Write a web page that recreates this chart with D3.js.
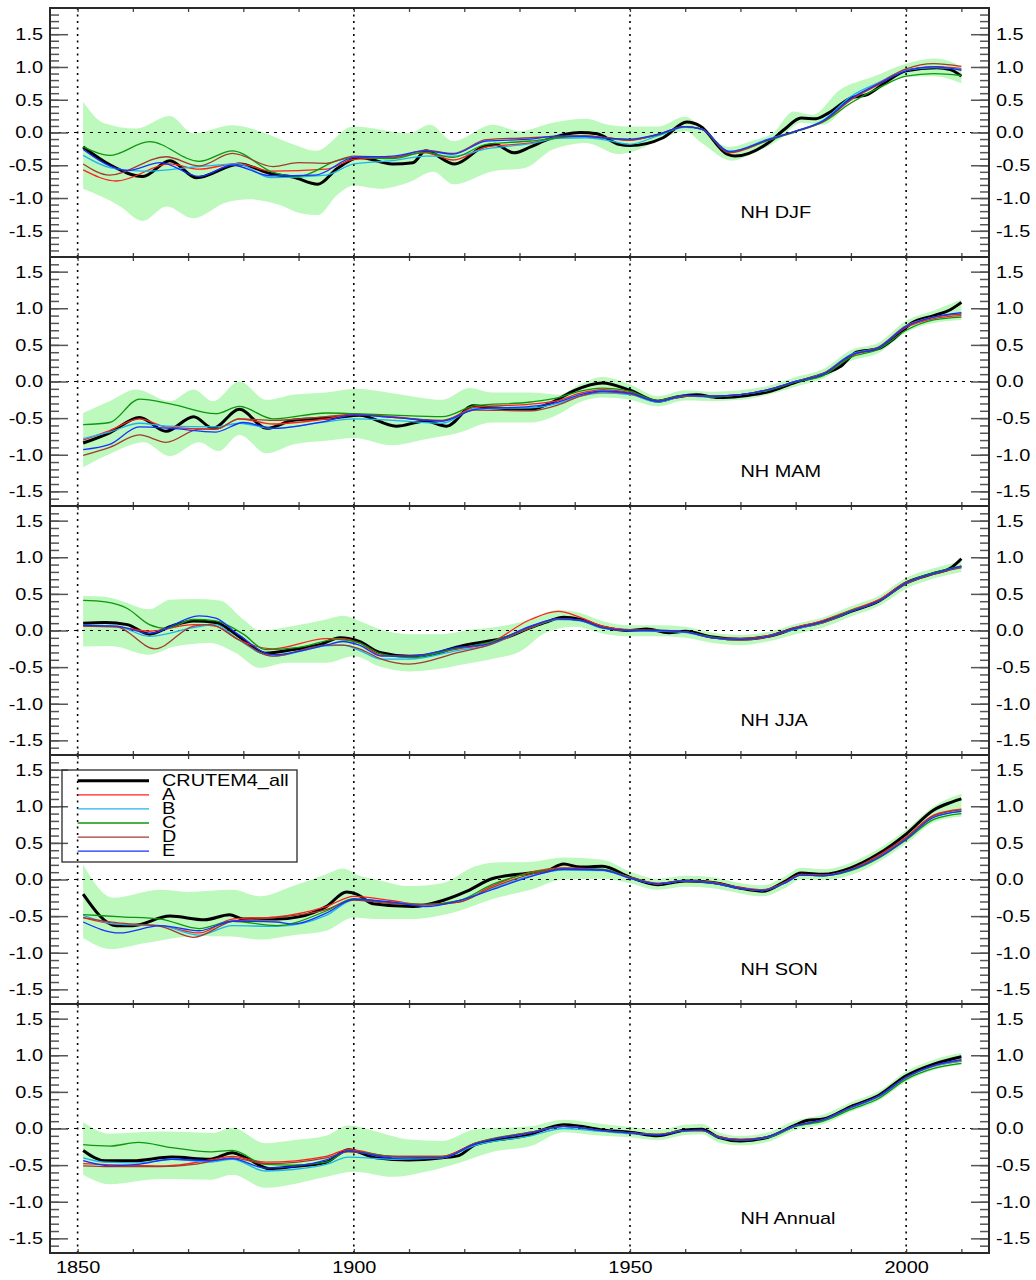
<!DOCTYPE html>
<html>
<head>
<meta charset="utf-8">
<script src="https://cdn.jsdelivr.net/npm/d3@7"></script>
<style>
  body { margin: 0; background: #fff; }
  svg { display: block; }
  text { font-family: "Liberation Sans", Arial, Helvetica, sans-serif; fill: #000; }
</style>
</head>
<body>
<svg id="chart" width="1036" height="1280"></svg>
<script>
// ---------------------------------------------------------------------------
// Smoothed NH land temperature anomalies (degC) by season, [year, value] knots.
// ---------------------------------------------------------------------------
const panelTitles = ["NH DJF", "NH MAM", "NH JJA", "NH SON", "NH Annual"];
const panelLimits = [1.9, 1.7, 1.7, 1.7, 1.7];
const seriesNames = ["CRUTEM4_all", "A", "B", "C", "D", "E"];
const seriesColors = ["#000000", "#ff2020", "#1cb4f0", "#0e960e", "#a33a30", "#1830ff"];
const xTickYears = [1850, 1860, 1870, 1880, 1890, 1900, 1910, 1920, 1930, 1940, 1950, 1960, 1970, 1980, 1990, 2000, 2010];
const xLabelYears = [1850, 1900, 1950, 2000];
const yLabelValues = [-1.5, -1.0, -0.5, 0.0, 0.5, 1.0, 1.5];

// --- NH DJF ---
const djfAll = [[1851,-0.22],[1856,-0.50],[1861.8,-0.67],[1866.7,-0.43],[1871.5,-0.69],[1879.3,-0.48],[1885,-0.63],[1889,-0.68],[1893.5,-0.79],[1897,-0.55],[1901,-0.38],[1907,-0.48],[1910.7,-0.46],[1913,-0.28],[1918.3,-0.48],[1923.4,-0.22],[1925.5,-0.18],[1929,-0.31],[1932,-0.22],[1935,-0.11],[1941,0.0],[1944,-0.02],[1948,-0.18],[1950,-0.20],[1956,-0.08],[1960.3,0.16],[1962.7,0.10],[1967.6,-0.33],[1969,-0.36],[1975,-0.16],[1978,0.05],[1981,0.22],[1983.7,0.21],[1986,0.30],[1990,0.53],[1993,0.58],[1996.5,0.78],[2000,0.94],[2005.5,0.99],[2008,0.96],[2010,0.86]];
const djfA = [[1851,-0.57],[1857,-0.74],[1866.7,-0.48],[1872,-0.56],[1879,-0.47],[1885,-0.59],[1895,-0.56],[1900,-0.41],[1907,-0.38],[1913,-0.31],[1918,-0.42],[1924,-0.22],[1932,-0.16],[1937,-0.07],[1942,-0.05],[1946,-0.09],[1950,-0.12],[1955,-0.03],[1960,0.09],[1963,0.05],[1968,-0.31],[1975,-0.12],[1980,0.02],[1985,0.18],[1990,0.50],[1995,0.73],[2000,0.95],[2005,1.00],[2010,0.98]];
const djfB = [[1851,-0.35],[1856,-0.54],[1862,-0.59],[1872,-0.52],[1879,-0.48],[1885,-0.69],[1895,-0.65],[1900,-0.48],[1907,-0.43],[1913,-0.36],[1918,-0.36],[1924,-0.25],[1932,-0.17],[1937,-0.09],[1942,-0.08],[1946,-0.12],[1950,-0.18],[1955,-0.05],[1960,0.08],[1963,0.05],[1968,-0.29],[1975,-0.10],[1980,0.02],[1985,0.19],[1990,0.55],[1995,0.76],[2000,0.95],[2005,0.99],[2010,0.96]];
const djfC = [[1851,-0.22],[1855.8,-0.35],[1863,-0.14],[1872,-0.44],[1878,-0.28],[1885.4,-0.61],[1890,-0.67],[1897,-0.43],[1900,-0.38],[1907,-0.40],[1913,-0.30],[1918,-0.38],[1924,-0.18],[1932,-0.13],[1937,-0.08],[1942,-0.06],[1946,-0.09],[1950,-0.11],[1955,-0.04],[1960,0.09],[1963,0.05],[1968,-0.30],[1975,-0.12],[1980,0.01],[1985,0.16],[1990,0.45],[1995,0.68],[2000,0.86],[2005,0.90],[2010,0.87]];
const djfD = [[1851,-0.48],[1855.8,-0.65],[1866,-0.37],[1872,-0.51],[1878,-0.32],[1885.4,-0.52],[1890,-0.46],[1895,-0.47],[1900,-0.36],[1907,-0.38],[1913,-0.27],[1918,-0.32],[1924,-0.11],[1932,-0.08],[1937,-0.06],[1942,-0.05],[1946,-0.08],[1950,-0.11],[1955,-0.03],[1960,0.09],[1963,0.05],[1968,-0.30],[1975,-0.11],[1980,0.02],[1985,0.17],[1990,0.50],[1995,0.75],[2000,0.97],[2005,1.05],[2010,1.01]];
const djfE = [[1851,-0.26],[1855.8,-0.51],[1859,-0.58],[1865,-0.46],[1872,-0.67],[1878,-0.50],[1885,-0.66],[1893,-0.65],[1900,-0.38],[1907,-0.36],[1913,-0.28],[1918,-0.33],[1924,-0.13],[1932,-0.10],[1937,-0.05],[1942,-0.06],[1946,-0.09],[1950,-0.10],[1955,-0.03],[1960,0.09],[1963,0.05],[1968,-0.29],[1975,-0.11],[1980,0.02],[1985,0.18],[1990,0.52],[1995,0.74],[2000,0.94],[2005,1.00],[2010,0.95]];
const djfHi = [[1851,0.47],[1854.6,0.15],[1860.6,0.06],[1866.7,0.25],[1870.9,-0.01],[1878.1,0.11],[1883,0.02],[1889,-0.18],[1893.2,-0.28],[1899.9,0.09],[1910,-0.01],[1913.8,0.12],[1918,-0.13],[1925.2,0.12],[1930,0.02],[1936,0.15],[1942,0.21],[1946,0.12],[1950,0.09],[1955,0.09],[1960,0.24],[1963,0.07],[1968,-0.22],[1972,-0.13],[1976,0.0],[1979.6,0.32],[1983,0.27],[1988,0.65],[1994,0.85],[2000,1.05],[2005,1.13],[2009,1.05],[2010,0.95]];
const djfLo = [[1851,-0.86],[1857.6,-1.12],[1861.8,-1.35],[1866.1,-1.13],[1870.9,-1.31],[1876.9,-1.07],[1881.2,-1.02],[1886,-1.09],[1890.8,-1.24],[1893.5,-1.26],[1896.9,-0.96],[1900,-0.81],[1904.7,-0.86],[1910,-0.76],[1914.4,-0.60],[1918,-0.79],[1925.2,-0.59],[1931,-0.54],[1936,-0.26],[1942,-0.16],[1948,-0.33],[1951,-0.28],[1955,-0.13],[1960,0.02],[1963,-0.16],[1968.5,-0.43],[1972,-0.33],[1977,-0.11],[1981,0.15],[1985,0.12],[1990,0.47],[1995,0.65],[2000,0.85],[2005,0.86],[2010,0.75]];

// --- NH MAM ---
const mamAll = [[1851,-0.84],[1855.8,-0.70],[1861.2,-0.49],[1866,-0.68],[1871,-0.48],[1874.5,-0.64],[1879.3,-0.38],[1884.2,-0.64],[1889,-0.53],[1897,-0.49],[1901,-0.46],[1907.7,-0.61],[1913,-0.54],[1916.8,-0.61],[1921.6,-0.33],[1925,-0.36],[1932,-0.38],[1936,-0.28],[1940,-0.12],[1945,-0.02],[1950,-0.12],[1955,-0.27],[1958,-0.22],[1962,-0.18],[1966,-0.22],[1970,-0.20],[1975,-0.14],[1980,-0.01],[1985,0.10],[1988,0.20],[1991,0.40],[1995,0.45],[1998,0.60],[2001,0.80],[2005,0.90],[2008,0.98],[2010,1.08]];
const mamA = [[1851,-0.80],[1855.8,-0.67],[1861.2,-0.51],[1866,-0.62],[1875,-0.65],[1879.3,-0.51],[1885.4,-0.58],[1895,-0.51],[1900,-0.45],[1907,-0.48],[1916,-0.54],[1922,-0.35],[1932,-0.31],[1937,-0.26],[1941,-0.16],[1945,-0.11],[1950,-0.15],[1955,-0.26],[1960,-0.19],[1965,-0.20],[1970,-0.18],[1975,-0.11],[1980,0.0],[1985,0.10],[1990,0.35],[1995,0.46],[2000,0.74],[2005,0.86],[2010,0.90]];
const mamB = [[1851,-0.78],[1855.8,-0.69],[1861.2,-0.57],[1866,-0.61],[1875,-0.62],[1879.3,-0.57],[1885.4,-0.64],[1895,-0.55],[1900,-0.51],[1907,-0.53],[1916,-0.57],[1922,-0.37],[1932,-0.36],[1937,-0.30],[1941,-0.20],[1945,-0.16],[1950,-0.18],[1955,-0.28],[1960,-0.20],[1965,-0.21],[1970,-0.18],[1975,-0.12],[1980,0.0],[1985,0.11],[1990,0.37],[1995,0.47],[2000,0.76],[2005,0.88],[2010,0.93]];
const mamC = [[1851,-0.59],[1855.8,-0.56],[1861.2,-0.24],[1867,-0.31],[1875,-0.44],[1879.3,-0.34],[1885.4,-0.51],[1895,-0.43],[1900,-0.44],[1907,-0.46],[1916,-0.48],[1922,-0.33],[1932,-0.28],[1937,-0.22],[1941,-0.13],[1945,-0.09],[1950,-0.13],[1955,-0.26],[1960,-0.19],[1965,-0.21],[1970,-0.18],[1975,-0.12],[1980,-0.01],[1985,0.08],[1990,0.33],[1995,0.44],[2000,0.70],[2005,0.84],[2010,0.88]];
const mamD = [[1851,-1.01],[1855.8,-0.90],[1861.2,-0.73],[1866,-0.83],[1872,-0.65],[1875,-0.65],[1879.3,-0.51],[1885.4,-0.53],[1895,-0.48],[1900,-0.45],[1907,-0.49],[1916,-0.53],[1922,-0.39],[1932,-0.40],[1937,-0.32],[1941,-0.20],[1945,-0.14],[1950,-0.17],[1955,-0.27],[1960,-0.20],[1965,-0.20],[1970,-0.18],[1975,-0.11],[1980,0.0],[1985,0.11],[1990,0.36],[1995,0.47],[2000,0.76],[2005,0.88],[2010,0.92]];
const mamE = [[1851,-0.93],[1855.8,-0.86],[1861.2,-0.62],[1867,-0.64],[1875,-0.69],[1880,-0.56],[1885.4,-0.64],[1895,-0.54],[1900,-0.46],[1907,-0.49],[1916,-0.54],[1922,-0.38],[1932,-0.34],[1937,-0.28],[1941,-0.18],[1945,-0.13],[1950,-0.16],[1955,-0.27],[1960,-0.19],[1965,-0.20],[1970,-0.18],[1975,-0.11],[1980,0.0],[1985,0.10],[1990,0.36],[1995,0.46],[2000,0.75],[2005,0.88],[2010,0.94]];
const mamHi = [[1851,-0.43],[1855.8,-0.27],[1860.6,-0.11],[1866.7,-0.27],[1871,-0.11],[1874.5,-0.27],[1879.3,0.0],[1884.2,-0.25],[1889,-0.18],[1895,-0.15],[1900.5,-0.10],[1907,-0.16],[1916,-0.25],[1921,-0.09],[1925,-0.15],[1932,-0.15],[1937,-0.18],[1941,-0.04],[1945,0.06],[1950,-0.04],[1955,-0.20],[1960,-0.12],[1965,-0.14],[1970,-0.12],[1975,-0.06],[1980,0.06],[1985,0.17],[1990,0.43],[1995,0.53],[2000,0.83],[2005,0.97],[2010,1.12]];
const mamLo = [[1851,-1.17],[1855.8,-0.99],[1862,-0.83],[1866.7,-1.02],[1872,-0.83],[1875.5,-0.95],[1879.3,-0.73],[1884.2,-0.98],[1889,-0.86],[1895,-0.81],[1900,-0.77],[1907,-0.87],[1913,-0.79],[1919,-0.70],[1925,-0.56],[1932,-0.56],[1937,-0.45],[1941,-0.28],[1945,-0.22],[1950,-0.25],[1955,-0.34],[1960,-0.26],[1965,-0.27],[1970,-0.25],[1975,-0.18],[1980,-0.07],[1985,0.04],[1990,0.28],[1995,0.39],[2000,0.67],[2005,0.80],[2010,0.84]];

// --- NH JJA ---
const jjaAll = [[1851,0.10],[1855,0.11],[1859,0.08],[1863,-0.05],[1867,0.06],[1871,0.13],[1875,0.11],[1879,-0.07],[1884,-0.31],[1889,-0.26],[1894,-0.19],[1897.5,-0.10],[1901,-0.15],[1904.7,-0.30],[1910,-0.35],[1913,-0.34],[1919,-0.22],[1924,-0.15],[1927,-0.11],[1932,0.04],[1935,0.12],[1938,0.18],[1941,0.15],[1945,0.05],[1950,0.0],[1953,0.02],[1957,-0.03],[1960,-0.01],[1965,-0.09],[1970,-0.12],[1975,-0.08],[1980,0.03],[1985,0.12],[1990,0.26],[1995,0.40],[2000,0.65],[2005,0.78],[2008,0.85],[2010,0.98]];
const jjaA = [[1851,0.06],[1857,0.05],[1863,-0.01],[1871,0.08],[1875,0.06],[1879,-0.12],[1885.4,-0.25],[1895,-0.11],[1898,-0.11],[1901,-0.17],[1905,-0.34],[1910,-0.35],[1919,-0.25],[1924,-0.19],[1932,0.15],[1937,0.26],[1941,0.18],[1945,0.06],[1950,0.01],[1955,0.0],[1960,-0.02],[1965,-0.10],[1970,-0.11],[1975,-0.07],[1980,0.04],[1985,0.14],[1990,0.28],[1995,0.42],[2000,0.66],[2005,0.78],[2010,0.87]];
const jjaB = [[1851,0.07],[1857,0.06],[1863,-0.08],[1871,0.04],[1875,0.08],[1879,-0.12],[1885.4,-0.35],[1895,-0.21],[1898,-0.20],[1901,-0.27],[1905,-0.39],[1910,-0.39],[1919,-0.27],[1924,-0.21],[1932,0.04],[1937,0.15],[1941,0.13],[1945,0.03],[1950,0.0],[1955,-0.01],[1960,-0.03],[1965,-0.10],[1970,-0.13],[1975,-0.08],[1980,0.02],[1985,0.11],[1990,0.26],[1995,0.40],[2000,0.64],[2005,0.78],[2010,0.86]];
const jjaC = [[1851,0.41],[1855,0.39],[1859,0.30],[1863,0.08],[1866,0.03],[1871,0.15],[1875,0.13],[1880,-0.05],[1884,-0.26],[1890,-0.23],[1897,-0.12],[1901,-0.17],[1905,-0.32],[1910,-0.37],[1919,-0.24],[1924,-0.17],[1932,0.04],[1937,0.16],[1941,0.14],[1945,0.04],[1950,0.0],[1955,0.0],[1960,-0.02],[1965,-0.09],[1970,-0.12],[1975,-0.08],[1980,0.03],[1985,0.12],[1990,0.27],[1995,0.40],[2000,0.65],[2005,0.79],[2010,0.88]];
const jjaD = [[1851,0.06],[1857,0.05],[1864,-0.25],[1871,0.06],[1874,0.08],[1879,-0.12],[1885.4,-0.35],[1895,-0.20],[1898,-0.20],[1901,-0.25],[1905,-0.39],[1910,-0.46],[1919,-0.30],[1924,-0.21],[1932,0.04],[1937,0.16],[1941,0.14],[1945,0.04],[1950,0.0],[1955,0.0],[1960,-0.02],[1965,-0.10],[1970,-0.13],[1975,-0.09],[1980,0.03],[1985,0.11],[1990,0.26],[1995,0.40],[2000,0.64],[2005,0.77],[2010,0.86]];
const jjaE = [[1851,0.07],[1857,0.06],[1863,-0.04],[1872,0.20],[1875,0.17],[1879,-0.05],[1885.4,-0.33],[1895,-0.20],[1898,-0.15],[1901,-0.20],[1905,-0.35],[1910,-0.35],[1919,-0.23],[1924,-0.19],[1932,0.06],[1937,0.16],[1941,0.14],[1945,0.04],[1950,0.0],[1955,0.0],[1960,-0.02],[1965,-0.10],[1970,-0.12],[1975,-0.08],[1980,0.03],[1985,0.12],[1990,0.26],[1995,0.40],[2000,0.65],[2005,0.78],[2010,0.88]];
const jjaHi = [[1851,0.47],[1855,0.46],[1858,0.40],[1863,0.29],[1866.7,0.42],[1871,0.43],[1875.7,0.41],[1880,0.15],[1883,0.0],[1889,0.06],[1895,0.15],[1898,0.20],[1901,0.13],[1905,0.01],[1910,-0.05],[1916,-0.05],[1921,0.01],[1925,0.04],[1932,0.15],[1937,0.28],[1941,0.24],[1945,0.13],[1950,0.07],[1955,0.07],[1960,0.05],[1965,-0.03],[1970,-0.06],[1975,-0.02],[1980,0.09],[1985,0.18],[1990,0.33],[1995,0.47],[2000,0.72],[2005,0.85],[2010,0.95]];
const jjaLo = [[1851,-0.22],[1856,-0.21],[1863,-0.33],[1867.5,-0.22],[1874,-0.17],[1878.5,-0.30],[1883,-0.51],[1888,-0.44],[1895,-0.44],[1900,-0.35],[1905,-0.50],[1910,-0.56],[1915,-0.53],[1920,-0.46],[1925,-0.39],[1930,-0.29],[1935,-0.02],[1940,0.05],[1945,-0.04],[1950,-0.08],[1955,-0.08],[1960,-0.10],[1965,-0.17],[1970,-0.20],[1975,-0.15],[1980,-0.05],[1985,0.04],[1990,0.19],[1995,0.33],[2000,0.57],[2005,0.71],[2010,0.80]];

// --- NH SON ---
const sonAll = [[1851,-0.20],[1857,-0.63],[1860,-0.63],[1866.7,-0.50],[1873,-0.55],[1877.5,-0.48],[1880,-0.54],[1886,-0.54],[1890,-0.51],[1895,-0.37],[1898.7,-0.17],[1900.5,-0.20],[1903.5,-0.33],[1910.7,-0.37],[1916,-0.29],[1920.5,-0.16],[1925,0.01],[1932,0.09],[1935,0.12],[1938,0.21],[1941,0.17],[1945,0.18],[1950,0.03],[1955,-0.07],[1960,-0.02],[1965,-0.04],[1970,-0.12],[1974,-0.16],[1978,-0.03],[1981,0.09],[1985,0.07],[1990,0.16],[1995,0.35],[2000,0.62],[2005,0.95],[2008,1.05],[2010,1.10]];
const sonA = [[1851,-0.52],[1857,-0.61],[1865,-0.63],[1872,-0.73],[1878,-0.54],[1886,-0.51],[1895,-0.37],[1900,-0.23],[1907,-0.29],[1913,-0.35],[1919,-0.31],[1925,-0.09],[1932,0.10],[1938,0.16],[1945,0.13],[1950,0.03],[1955,-0.05],[1960,-0.02],[1965,-0.04],[1970,-0.11],[1974,-0.14],[1978,-0.04],[1981,0.07],[1985,0.06],[1990,0.14],[1995,0.33],[2000,0.58],[2005,0.88],[2010,0.96]];
const sonB = [[1851,-0.49],[1857,-0.61],[1865,-0.63],[1872,-0.76],[1878,-0.63],[1886,-0.64],[1895,-0.49],[1900,-0.28],[1907,-0.31],[1913,-0.35],[1919,-0.29],[1925,-0.13],[1932,0.05],[1938,0.13],[1945,0.12],[1950,0.02],[1955,-0.06],[1960,-0.02],[1965,-0.05],[1970,-0.12],[1974,-0.15],[1978,-0.05],[1981,0.06],[1985,0.05],[1990,0.13],[1995,0.30],[2000,0.56],[2005,0.85],[2010,0.93]];
const sonC = [[1851,-0.48],[1858,-0.51],[1865,-0.54],[1872,-0.67],[1878,-0.57],[1886,-0.63],[1895,-0.43],[1900,-0.26],[1907,-0.32],[1913,-0.34],[1919,-0.29],[1925,-0.07],[1932,0.09],[1938,0.15],[1945,0.14],[1950,0.03],[1955,-0.06],[1960,-0.02],[1965,-0.04],[1970,-0.12],[1974,-0.15],[1978,-0.05],[1981,0.06],[1985,0.05],[1990,0.12],[1995,0.29],[2000,0.54],[2005,0.82],[2010,0.90]];
const sonD = [[1851,-0.52],[1857,-0.59],[1865,-0.64],[1871,-0.79],[1878,-0.57],[1886,-0.52],[1895,-0.41],[1900,-0.28],[1907,-0.33],[1913,-0.34],[1919,-0.31],[1925,-0.11],[1932,0.07],[1938,0.15],[1945,0.13],[1950,0.03],[1955,-0.06],[1960,-0.02],[1965,-0.04],[1970,-0.12],[1974,-0.15],[1978,-0.04],[1981,0.07],[1985,0.06],[1990,0.14],[1995,0.32],[2000,0.57],[2005,0.87],[2010,0.95]];
const sonE = [[1851,-0.58],[1857.6,-0.73],[1865,-0.63],[1872,-0.70],[1878,-0.57],[1886,-0.58],[1889,-0.61],[1895,-0.46],[1900,-0.27],[1907,-0.31],[1913,-0.37],[1919,-0.29],[1925,-0.14],[1932,0.04],[1938,0.14],[1945,0.13],[1950,0.02],[1955,-0.06],[1960,-0.02],[1965,-0.05],[1970,-0.12],[1974,-0.15],[1978,-0.05],[1981,0.06],[1985,0.05],[1990,0.13],[1995,0.30],[2000,0.55],[2005,0.85],[2010,0.93]];
const sonHi = [[1851,0.20],[1856.4,-0.25],[1865,-0.14],[1870,-0.17],[1878,-0.14],[1883,-0.23],[1889,-0.09],[1895,0.07],[1898,0.15],[1901,0.05],[1904,0.0],[1910,-0.09],[1916,-0.05],[1922,0.18],[1925,0.23],[1932,0.24],[1938,0.30],[1945,0.27],[1950,0.11],[1955,0.01],[1960,0.05],[1965,0.03],[1970,-0.05],[1974,-0.08],[1978,0.04],[1981,0.16],[1985,0.14],[1990,0.23],[1995,0.42],[2000,0.68],[2005,1.0],[2010,1.17]];
const sonLo = [[1851,-0.80],[1856,-0.95],[1862,-0.87],[1872,-0.77],[1878,-0.78],[1883,-0.82],[1889,-0.76],[1895,-0.70],[1900,-0.52],[1904,-0.54],[1910,-0.54],[1919,-0.43],[1925,-0.27],[1932,-0.14],[1938,0.0],[1945,0.01],[1950,-0.05],[1955,-0.14],[1960,-0.10],[1965,-0.12],[1970,-0.19],[1974,-0.23],[1978,-0.12],[1981,0.0],[1985,-0.01],[1990,0.06],[1995,0.24],[2000,0.49],[2005,0.78],[2010,0.86]];

// --- NH Annual ---
const annAll = [[1851,-0.30],[1855,-0.44],[1860,-0.44],[1867,-0.39],[1874,-0.42],[1878,-0.33],[1880.5,-0.40],[1884.8,-0.55],[1889,-0.52],[1895,-0.46],[1899,-0.29],[1904,-0.40],[1910,-0.43],[1916,-0.40],[1919,-0.37],[1922,-0.22],[1932,-0.08],[1935,0.0],[1938,0.05],[1941,0.03],[1945,-0.02],[1950,-0.05],[1955,-0.10],[1960,-0.02],[1963,-0.01],[1966,-0.12],[1970,-0.17],[1975,-0.12],[1980,0.05],[1982,0.11],[1985,0.13],[1990,0.30],[1995,0.45],[2000,0.72],[2005,0.88],[2010,0.98]];
const annA = [[1851,-0.48],[1858,-0.50],[1866,-0.51],[1874,-0.43],[1878,-0.38],[1884,-0.46],[1895,-0.38],[1899,-0.29],[1907,-0.38],[1916,-0.38],[1922,-0.20],[1932,-0.06],[1938,0.03],[1945,-0.03],[1950,-0.06],[1955,-0.08],[1960,-0.03],[1963,-0.03],[1966,-0.11],[1970,-0.15],[1975,-0.11],[1980,0.04],[1985,0.12],[1990,0.29],[1995,0.44],[2000,0.70],[2005,0.85],[2010,0.92]];
const annB = [[1851,-0.40],[1855,-0.46],[1861,-0.47],[1867,-0.42],[1874,-0.46],[1878,-0.42],[1884,-0.58],[1889,-0.56],[1895,-0.49],[1899,-0.39],[1907,-0.42],[1916,-0.40],[1922,-0.23],[1932,-0.10],[1938,0.0],[1945,-0.04],[1950,-0.07],[1955,-0.08],[1960,-0.03],[1963,-0.03],[1966,-0.12],[1970,-0.16],[1975,-0.12],[1980,0.03],[1985,0.11],[1990,0.28],[1995,0.43],[2000,0.69],[2005,0.85],[2010,0.92]];
const annC = [[1851,-0.22],[1855.8,-0.24],[1861,-0.19],[1867,-0.26],[1874,-0.32],[1878,-0.30],[1884,-0.49],[1889,-0.50],[1895,-0.46],[1899,-0.31],[1907,-0.38],[1916,-0.40],[1922,-0.20],[1932,-0.05],[1938,0.03],[1945,-0.03],[1950,-0.06],[1955,-0.08],[1960,-0.03],[1963,-0.03],[1966,-0.12],[1970,-0.16],[1975,-0.12],[1980,0.03],[1985,0.10],[1990,0.26],[1995,0.41],[2000,0.67],[2005,0.82],[2010,0.89]];
const annD = [[1851,-0.51],[1855.8,-0.52],[1865,-0.52],[1871,-0.49],[1878,-0.40],[1884,-0.48],[1895,-0.40],[1899,-0.32],[1907,-0.38],[1916,-0.38],[1922,-0.20],[1932,-0.05],[1938,0.03],[1945,-0.03],[1950,-0.06],[1955,-0.08],[1960,-0.03],[1963,-0.03],[1966,-0.11],[1970,-0.15],[1975,-0.11],[1980,0.04],[1985,0.12],[1990,0.29],[1995,0.44],[2000,0.70],[2005,0.86],[2010,0.93]];
const annE = [[1851,-0.44],[1855.8,-0.51],[1861,-0.49],[1867,-0.42],[1874,-0.44],[1878,-0.41],[1884,-0.54],[1889,-0.52],[1895,-0.43],[1899,-0.31],[1907,-0.40],[1916,-0.40],[1922,-0.21],[1932,-0.06],[1938,0.03],[1945,-0.03],[1950,-0.06],[1955,-0.09],[1960,-0.03],[1963,-0.02],[1966,-0.12],[1970,-0.16],[1975,-0.11],[1980,0.04],[1985,0.12],[1990,0.29],[1995,0.44],[2000,0.70],[2005,0.86],[2010,0.94]];
const annHi = [[1851,0.09],[1855.8,-0.07],[1865,-0.04],[1871,-0.05],[1874.5,-0.06],[1878,0.01],[1884,-0.20],[1889,-0.16],[1895,-0.10],[1899,0.04],[1904,-0.04],[1910,-0.15],[1916,-0.17],[1922,-0.01],[1932,0.03],[1938,0.12],[1945,0.06],[1950,0.02],[1955,-0.02],[1960,0.05],[1963,0.06],[1966,-0.05],[1970,-0.10],[1975,-0.05],[1980,0.11],[1985,0.19],[1990,0.36],[1995,0.51],[2000,0.78],[2005,0.94],[2010,1.03]];
const annLo = [[1851,-0.63],[1855.8,-0.76],[1865,-0.69],[1874,-0.70],[1878,-0.63],[1884,-0.81],[1889,-0.76],[1895,-0.66],[1900,-0.59],[1907,-0.66],[1913,-0.59],[1919,-0.47],[1925,-0.32],[1932,-0.24],[1938,-0.05],[1945,-0.10],[1950,-0.12],[1955,-0.16],[1960,-0.09],[1963,-0.08],[1966,-0.19],[1970,-0.23],[1975,-0.18],[1980,-0.02],[1985,0.06],[1990,0.23],[1995,0.38],[2000,0.64],[2005,0.80],[2010,0.87]];

// ---------------------------------------------------------------------------
const panels = [
  { series: [djfAll, djfA, djfB, djfC, djfD, djfE], hi: djfHi, lo: djfLo },
  { series: [mamAll, mamA, mamB, mamC, mamD, mamE], hi: mamHi, lo: mamLo },
  { series: [jjaAll, jjaA, jjaB, jjaC, jjaD, jjaE], hi: jjaHi, lo: jjaLo },
  { series: [sonAll, sonA, sonB, sonC, sonD, sonE], hi: sonHi, lo: sonLo },
  { series: [annAll, annA, annB, annC, annD, annE], hi: annHi, lo: annLo }
];

const left = 50, right = 989, top0 = 8, panelH = 249;
const stretch = 1.17;          // wide, Helvetica-like lettering
const fontSize = 17;
const legendFont = 16, legendStretch = 1.24;
const frameColor = "#2a2a2a";
const bandColor = "#bdf8bd";

const svg = d3.select("#chart");
const x = d3.scaleLinear().domain([1845, 2015]).range([left, right]);

function stretchAxisText(g, offset) {
  g.selectAll("text")
    .attr("x", offset / stretch)
    .attr("transform", `scale(${stretch},1)`)
    .style("font-size", fontSize + "px");
}

panels.forEach((p, i) => {
  const top = top0 + i * panelH;
  const bottom = top + panelH;
  const lim = panelLimits[i];
  const y = d3.scaleLinear().domain([-lim, lim]).range([bottom, top]);
  const g = svg.append("g");

  const clipId = "clip" + i;
  svg.append("clipPath").attr("id", clipId)
    .append("rect").attr("x", left).attr("y", top).attr("width", right - left).attr("height", panelH);
  const plot = g.append("g").attr("clip-path", `url(#${clipId})`);

  const line = d3.line().x(d => x(d[0])).y(d => y(d[1])).curve(d3.curveMonotoneX);

  // uncertainty band: upper edge forward, lower edge back
  const upPath = line(p.hi);
  const loPath = line(p.lo.slice().reverse());
  plot.append("path")
    .attr("d", upPath + "L" + loPath.slice(1) + "Z")
    .attr("fill", bandColor)
    .attr("stroke", "none");

  // zero line and half-century guides
  plot.append("line")
    .attr("x1", left).attr("x2", right).attr("y1", y(0)).attr("y2", y(0))
    .attr("stroke", "#000").attr("stroke-width", 1.2).attr("stroke-dasharray", "3,5");
  xLabelYears.forEach(yr => {
    plot.append("line")
      .attr("x1", x(yr)).attr("x2", x(yr)).attr("y1", top).attr("y2", bottom)
      .attr("stroke", "#000").attr("stroke-width", 1.6).attr("stroke-dasharray", "2,4.5");
  });

  // series
  p.series.forEach((s, k) => {
    plot.append("path")
      .datum(s)
      .attr("d", line)
      .attr("fill", "none")
      .attr("stroke", seriesColors[k])
      .attr("stroke-width", k === 0 ? 3 : 1.3)
      .attr("stroke-linejoin", "round");
  });

  // y axes, left and right, ticks pointing inward
  const minor = d3.range(-Math.round(lim * 10 - 1), Math.round(lim * 10)).map(v => v / 10);
  const fmt = d => d.toFixed(1);

  const lMinor = g.append("g").attr("transform", `translate(${left},0)`)
    .call(d3.axisLeft(y).tickValues(minor).tickSize(-9).tickFormat(""));
  const lMajor = g.append("g").attr("transform", `translate(${left},0)`)
    .call(d3.axisLeft(y).tickValues(yLabelValues).tickSize(-18).tickPadding(7).tickFormat(fmt));
  const rMinor = g.append("g").attr("transform", `translate(${right},0)`)
    .call(d3.axisRight(y).tickValues(minor).tickSize(-9).tickFormat(""));
  const rMajor = g.append("g").attr("transform", `translate(${right},0)`)
    .call(d3.axisRight(y).tickValues(yLabelValues).tickSize(-18).tickPadding(7).tickFormat(fmt));
  [lMinor, lMajor, rMinor, rMajor].forEach(a => {
    a.select(".domain").remove();
    a.selectAll("line").attr("stroke", "#555").attr("stroke-width", 1.5);
  });
  stretchAxisText(lMajor, -7);
  stretchAxisText(rMajor, 7);
  lMajor.selectAll("text").attr("font-family", null);
  rMajor.selectAll("text").attr("font-family", null);

  // x ticks along the top and bottom edges
  const tTop = g.append("g").attr("transform", `translate(0,${top})`)
    .call(d3.axisBottom(x).tickValues(xTickYears).tickSize(4).tickFormat(""));
  const tBot = g.append("g").attr("transform", `translate(0,${bottom})`)
    .call(d3.axisTop(x).tickValues(xTickYears).tickSize(4).tickFormat(""));
  [tTop, tBot].forEach(a => {
    a.select(".domain").remove();
    a.selectAll("line").attr("stroke", "#444").attr("stroke-width", 1.3);
  });

  // frame
  g.append("rect")
    .attr("x", left).attr("y", top).attr("width", right - left).attr("height", panelH)
    .attr("fill", "none").attr("stroke", frameColor).attr("stroke-width", 2);

  // panel title
  g.append("text")
    .attr("transform", `translate(${x(1970)},${y(-1.31)}) scale(${stretch},1)`)
    .style("font-size", fontSize + "px")
    .text(panelTitles[i]);

  // year labels under the last panel
  if (i === panels.length - 1) {
    const xl = g.append("g").attr("transform", `translate(0,${bottom})`)
      .call(d3.axisBottom(x).tickValues(xLabelYears).tickSize(0).tickPadding(8).tickFormat(d3.format("d")));
    xl.select(".domain").remove();
    xl.selectAll("text").attr("font-family", null)
      .attr("transform", `scale(${stretch},1)`)
      .style("font-size", fontSize + "px");
  }

  // legend inside the SON panel
  if (i === 3) {
    const lg = g.append("g");
    lg.append("rect")
      .attr("x", 62).attr("y", 770).attr("width", 235).attr("height", 92)
      .attr("fill", "none").attr("stroke", frameColor).attr("stroke-width", 1.3);
    seriesNames.forEach((name, k) => {
      const ly = 780.7 + k * 14.1;
      lg.append("line")
        .attr("x1", x(1850)).attr("x2", 149).attr("y1", ly).attr("y2", ly)
        .attr("stroke", seriesColors[k]).attr("stroke-width", k === 0 ? 3 : 1.3);
      lg.append("text")
        .attr("transform", `translate(162,${ly + 4.8}) scale(${legendStretch},1)`)
        .style("font-size", legendFont + "px")
        .text(name);
    });
  }
});
</script>
</body>
</html>
